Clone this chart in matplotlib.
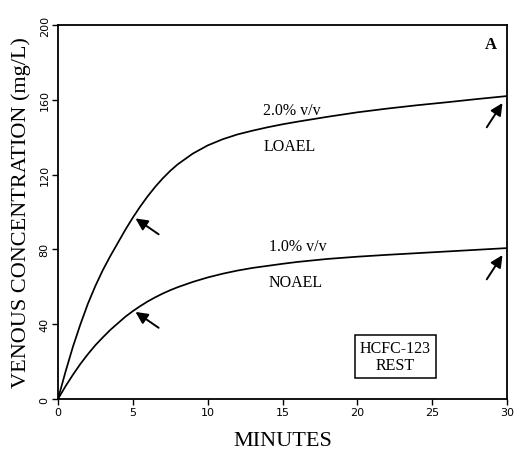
import numpy as np
import matplotlib
matplotlib.use("Agg")
import matplotlib.pyplot as plt

# Venous HCFC-123 concentration at rest, two exposure levels
minutes = [0, 0.5, 1, 1.5, 2, 2.5, 3, 3.5, 4, 4.5, 5, 5.5, 6, 6.5, 7, 7.5,
           8, 9, 10, 11, 12, 13, 14, 15, 16, 18, 20, 22, 24, 26, 28, 30]
conc_2pct = [0, 14.5, 28, 40, 51, 60.5, 69, 76.5, 83.5, 90.5, 97, 103,
             108.5, 113.5, 118, 122, 125.5, 131.2, 135.6, 138.9, 141.5,
             143.5, 145.3, 146.9, 148.3, 150.9, 153.3, 155.3, 157.1, 158.7,
             160.4, 162]
conc_1pct = [0, 6.8, 13, 18.8, 24, 28.8, 33, 37, 40.5, 44, 47, 49.7, 52.2,
             54.4, 56.4, 58.2, 59.8, 62.6, 65, 67, 68.7, 70.1, 71.2, 72.3,
             73.3, 74.9, 76.1, 77.1, 78.0, 78.9, 79.8, 80.7]

x_ticks = [0, 5, 10, 15, 20, 25, 30]
y_ticks = [0, 40, 80, 120, 160, 200]

SERIF = ["Liberation Serif", "DejaVu Serif"]


def main():
    fig = plt.figure(figsize=(5.15, 4.6), dpi=100)
    ax = fig.add_axes([0.1126, 0.1304, 0.8719, 0.8131])

    t = np.array(minutes)
    hi = np.array(conc_2pct)
    lo = np.array(conc_1pct)

    ax.plot(t, hi, color="black", linewidth=1.25, solid_joinstyle="round")
    ax.plot(t, lo, color="black", linewidth=1.25, solid_joinstyle="round")

    # arrows at 5 min and at the end of exposure
    arrow = dict(arrowstyle="-|>,head_length=0.45,head_width=0.22",
                 color="black", lw=1.4, mutation_scale=16,
                 shrinkA=0, shrinkB=1)
    i5 = minutes.index(5)
    for series in (hi, lo):
        ax.annotate("", xy=(t[i5] + 0.1, series[i5]), xycoords="data",
                    xytext=(17.5, -12), textcoords="offset points",
                    arrowprops=arrow)
        end_arrow = dict(arrow, shrinkB=6)
        ax.annotate("", xy=(t[-1], series[-1]), xycoords="data",
                    xytext=(-14.6, -22.5), textcoords="offset points",
                    arrowprops=end_arrow)

    # curve labels
    ax.text(15.6, 154.5, "2.0% v/v", ha="center", va="center",
            family=SERIF, fontsize=11.5)
    ax.text(15.5, 135.3, "LOAEL", ha="center", va="center",
            family=SERIF, fontsize=11.5)
    ax.text(16.0, 81.8, "1.0% v/v", ha="center", va="center",
            family=SERIF, fontsize=11.5)
    ax.text(15.9, 62.6, "NOAEL", ha="center", va="center",
            family=SERIF, fontsize=11.5)

    ax.text(28.95, 190, "A", ha="center", va="center",
            family=SERIF, fontsize=12, fontweight="bold")

    ax.text(22.55, 22.7, "HCFC-123\nREST", ha="center", va="center",
            family=SERIF, fontsize=11.5, linespacing=1.15,
            bbox=dict(boxstyle="square,pad=0.3", facecolor="white",
                      edgecolor="black", linewidth=1.1))

    ax.set_xlim(0, 30)
    ax.set_ylim(0, 200)
    ax.set_xticks(x_ticks)
    ax.set_yticks(y_ticks)
    ax.set_xticklabels([str(v) for v in x_ticks], fontsize=8)
    ax.set_yticklabels([str(v) for v in y_ticks], fontsize=8,
                       rotation=90, va="center")
    ax.tick_params(direction="out", length=4, width=1.0, pad=2)

    for side in ax.spines.values():
        side.set_linewidth(1.3)

    ax.set_xlabel("MINUTES", family=SERIF, fontsize=16, labelpad=10)
    ax.set_ylabel("VENOUS CONCENTRATION (mg/L)", family=SERIF,
                  fontsize=16, labelpad=6)

    fig.savefig("out.png", dpi=100, facecolor="white")
    plt.close(fig)


if __name__ == "__main__":
    main()
